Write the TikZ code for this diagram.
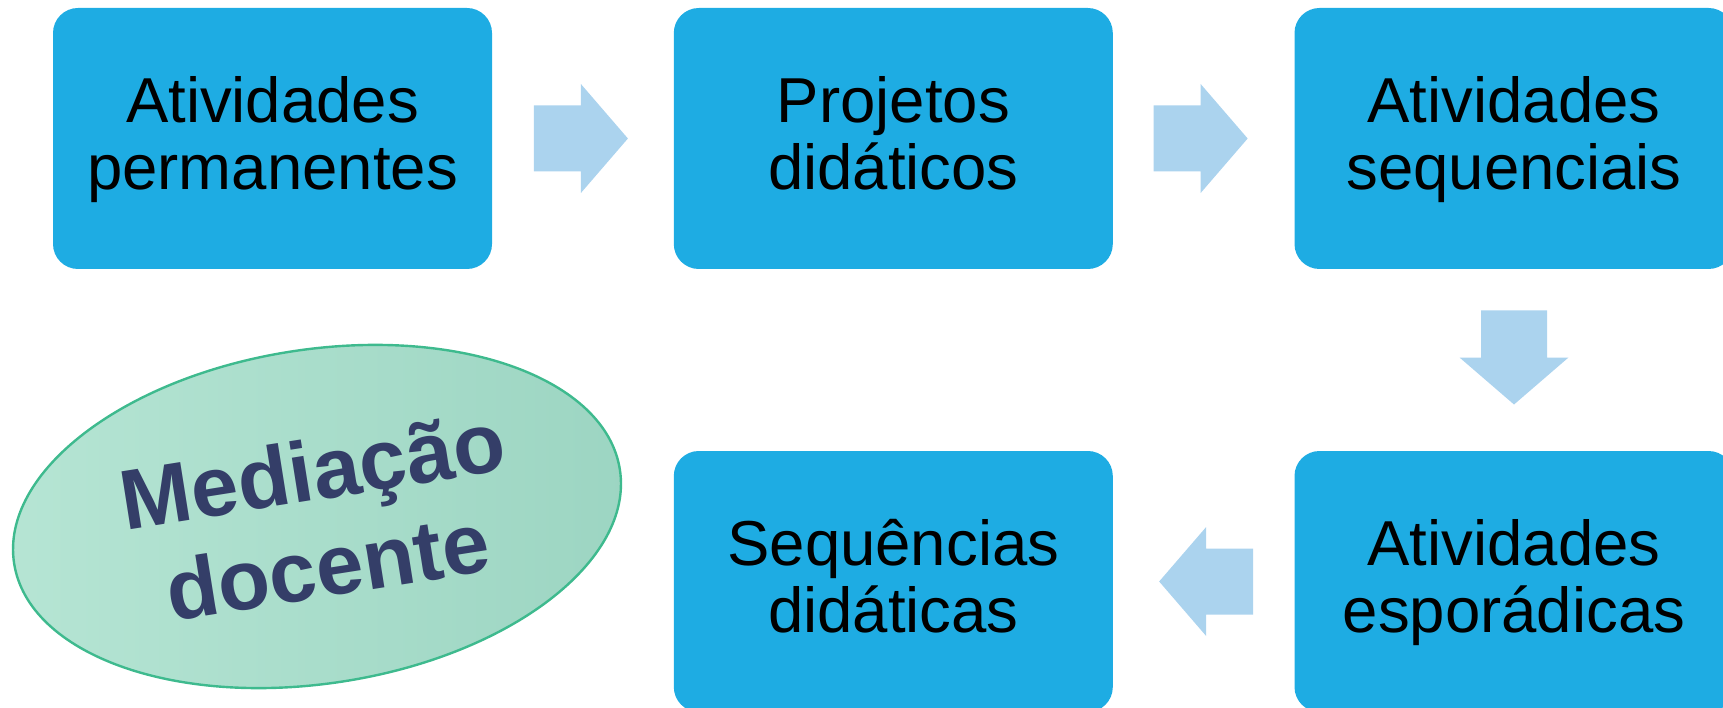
\documentclass[tikz,border=0pt]{standalone}
\usepackage{fontspec}
\setmainfont{Liberation Sans}
\usetikzlibrary{shapes.geometric,calc}
\definecolor{boxblue}{RGB}{30,172,227}
\definecolor{arrowblue}{RGB}{171,211,238}
\definecolor{mintA}{RGB}{182,229,212}
\definecolor{mintB}{RGB}{156,213,194}
\definecolor{mintedge}{RGB}{62,186,142}
\definecolor{navytext}{RGB}{52,62,104}
\newcommand\boxtopstrut{\rule{0pt}{48pt}}
\newcommand\boxbotstrut{\rule[-13pt]{0pt}{13pt}}
\tikzset{
  stepbox/.style={rectangle, rounded corners=25pt, fill=boxblue, minimum width=439pt,
    minimum height=261pt, inner sep=0pt, align=center, text=black,
    font=\fontsize{63.5}{66.7}\selectfont},
  blockarr/.pic={\fill[arrowblue] (-47,-33) -- (0,-33) -- (0,-54.5) -- (47,0) -- (0,54.5) -- (0,33) -- (-47,33) -- cycle;},
  medellipse/.style={ellipse, draw=mintedge, line width=2.4pt, left color=mintA, right color=mintB,
    minimum width=613pt, minimum height=334pt, inner sep=0pt},
  medtext/.style={text=navytext, align=center, inner sep=0pt,
    font=\bfseries\fontsize{85}{97}\selectfont},
}
\begin{document}
\begin{tikzpicture}[x=1pt,y=-1pt]
\clip (0,0) rectangle (1723,708);
\node[stepbox] (b1) at (272.5,138.5) {\boxtopstrut Atividades\\permanentes\boxbotstrut};
\node[stepbox] (b2) at (893.3,138.5) {\boxtopstrut Projetos\\didáticos\boxbotstrut};
\node[stepbox] (b3) at (1514,138.5) {\boxtopstrut Atividades\\sequenciais\boxbotstrut};
\node[stepbox] (b5) at (1514,581.5) {\boxtopstrut Atividades\\esporádicas\boxbotstrut};
\node[stepbox] (b4) at (893.3,581.5) {\boxtopstrut Sequências\\didáticas\boxbotstrut};
\coordinate (m12) at ($(b1.east)!0.5!(b2.west)+(-2,0)$);
\coordinate (m23) at ($(b2.east)!0.5!(b3.west)+(-3,0)$);
\coordinate (m35) at ($(b3.south)!0.5!(b5.north)+(0,-2.5)$);
\coordinate (m54) at ($(b5.west)!0.5!(b4.east)+(2.5,0)$);
\pic at (m12) {blockarr};
\pic at (m23) {blockarr};
\pic[rotate=-90] at (m35) {blockarr};
\pic[rotate=180] at (m54) {blockarr};
\node[medellipse, rotate=8.8] (med) at (317,516.5) {};
\node[medtext, rotate=9] (medtxt) at (320,518) {Mediação\\docente};
\end{tikzpicture}
\end{document}
